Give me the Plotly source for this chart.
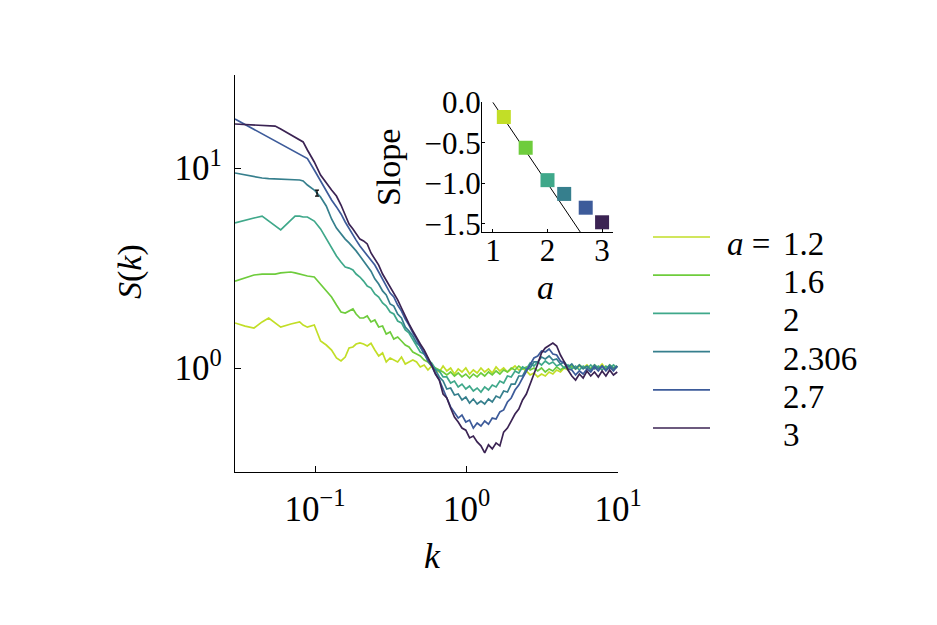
import math
import plotly.graph_objects as go

# ---------------- data ----------------
k_low = [0.0296, 0.0345, 0.0395, 0.0447, 0.0494, 0.0545, 0.0593, 0.0692, 0.0738, 0.0791,
         0.0834, 0.089, 0.0988, 0.1087, 0.1185, 0.1285, 0.1384, 0.1483, 0.1581, 0.1676,
         0.1778, 0.1866, 0.1977]
k_high = [0.209, 0.221, 0.234, 0.248, 0.263, 0.279, 0.295, 0.313, 0.331, 0.351,
          0.372, 0.394, 0.417, 0.442, 0.468, 0.495, 0.525, 0.556, 0.589, 0.624,
          0.661, 0.700, 0.741, 0.785, 0.832, 0.881, 0.933, 0.989, 1.047, 1.109,
          1.175, 1.245, 1.318, 1.396, 1.479, 1.567, 1.660, 1.758, 1.862, 1.972,
          2.089, 2.213, 2.344, 2.483, 2.630, 2.786, 2.951, 3.126, 3.311, 3.508,
          3.715, 3.936, 4.169, 4.416, 4.677, 4.955, 5.248, 5.559, 5.888, 6.237,
          6.607, 6.998, 7.413, 7.852, 8.318, 8.810, 9.333, 9.886]
k = k_low + k_high

a_labels = ["1.2", "1.6", "2", "2.306", "2.7", "3"]

S_a12 = [1.68, 1.62, 1.585, 1.70, 1.778, 1.68, 1.60, 1.66, 1.68, 1.70, 1.64, 1.60, 1.64,
         1.365, 1.303, 1.23, 1.122, 1.084, 1.135, 1.259, 1.274, 1.318, 1.334,
         1.318, 1.288, 1.33, 1.23, 1.148, 1.189, 1.072, 1.122, 1.096, 1.072,
         1.135, 1.047, 1.072, 1.096, 1.072, 1.012, 1.035, 0.977, 1.023, 0.977,
         0.955, 1.023, 0.966, 1.0, 0.933, 0.989, 0.955, 1.0, 0.933, 0.977,
         0.944, 1.0, 0.955, 0.989, 0.944, 1.012, 0.966, 1.0, 0.955, 0.989,
         1.023, 0.977, 1.0, 0.966, 0.923, 0.944, 0.902, 0.933, 0.912, 0.955,
         0.933, 0.977, 0.955, 1.0, 0.977, 1.023, 0.989, 1.023, 1.0, 1.035,
         0.989, 1.023, 1.0, 1.047, 0.989, 1.023, 0.977, 1.023]
S_a16 = [2.72, 2.818, 2.917, 2.95, 2.95, 2.95, 2.99, 3.02, 2.99, 2.95, 2.917, 2.884, 2.851,
         2.63, 2.455, 2.265, 2.065, 1.905, 1.884, 1.927, 1.973, 1.862, 1.778,
         1.778, 1.82, 1.70, 1.738, 1.603, 1.621, 1.479, 1.514, 1.396, 1.429,
         1.365, 1.303, 1.274, 1.202, 1.175, 1.148, 1.096, 1.072, 1.023, 1.0,
         0.977, 0.955, 0.923, 0.955, 0.912, 0.944, 0.902, 0.933, 0.891, 0.933,
         0.902, 0.944, 0.912, 0.955, 0.923, 0.966, 0.933, 0.977, 0.955, 1.0,
         0.977, 1.023, 0.989, 1.012, 0.977, 1.0, 0.966, 1.0, 0.955, 0.989,
         0.966, 1.012, 0.977, 1.012, 0.989, 1.023, 0.989, 1.035, 1.0, 1.023,
         0.989, 1.035, 1.0, 1.023, 0.989, 1.035, 1.0, 1.023]
S_a20 = [5.31, 5.49, 5.62, 5.75, 5.43, 5.13, 4.90, 5.49, 5.75, 5.75, 5.69, 5.69, 5.43,
         4.96, 4.41, 3.98, 3.63, 3.39, 3.20, 3.16, 3.09, 2.95, 2.85,
         2.72, 2.57, 2.51, 2.344, 2.265, 2.113, 2.04, 1.905, 1.862, 1.718,
         1.68, 1.549, 1.497, 1.396, 1.288, 1.202, 1.175, 1.096, 1.059, 0.989,
         0.966, 0.902, 0.902, 0.841, 0.861, 0.804, 0.831, 0.785, 0.813, 0.767,
         0.794, 0.758, 0.804, 0.776, 0.822, 0.804, 0.861, 0.841, 0.912, 0.902,
         0.966, 0.944, 1.012, 0.989, 1.059, 1.023, 1.072, 1.035, 1.084, 1.047,
         1.072, 1.023, 1.047, 1.0, 1.035, 0.989, 1.023, 0.977, 1.023, 0.989,
         1.035, 0.989, 1.023, 0.977, 1.023, 0.989, 1.035, 1.0]
S_a2306 = [9.44, 9.22, 9.02, 8.91, 8.85, 8.81, 8.81, 8.75, 8.71, 8.71, 8.61, 8.22, 7.76,
           7.16, 6.46, 5.56, 5.01, 4.68, 4.41, 4.22, 4.03, 3.85, 3.63,
           3.43, 3.20, 3.05, 2.79, 2.63, 2.43, 2.32, 2.09, 2.04, 1.862,
           1.778, 1.60, 1.531, 1.445, 1.334, 1.288, 1.175, 1.122, 1.023, 0.977,
           0.902, 0.861, 0.785, 0.794, 0.733, 0.741, 0.692, 0.716, 0.668, 0.700,
           0.661, 0.684, 0.661, 0.700, 0.676, 0.724, 0.708, 0.767, 0.758, 0.831,
           0.831, 0.912, 0.912, 0.989, 1.0, 1.072, 1.072, 1.135, 1.109, 1.148,
           1.096, 1.109, 1.047, 1.072, 1.012, 1.047, 0.989, 1.035, 0.989, 1.023,
           0.977, 1.035, 0.989, 1.023, 0.977, 1.035, 0.989, 1.023]
S_a27 = [17.58, 16.5, 15.6, 14.83, 14.22, 13.66, 13.18, 12.37, 12.04, 11.71, 11.44, 11.14, 9.77,
         8.61, 7.67, 6.92, 6.39, 5.89, 5.37, 4.96, 4.62, 4.36, 4.07,
         3.85, 3.67, 3.47, 3.27, 3.02, 2.79, 2.60, 2.37, 2.265, 2.065,
         1.927, 1.758, 1.64, 1.497, 1.396, 1.274, 1.189, 1.084, 1.023, 0.933,
         0.871, 0.776, 0.708, 0.639, 0.603, 0.562, 0.582, 0.537, 0.549, 0.501,
         0.531, 0.513, 0.543, 0.524, 0.562, 0.556, 0.603, 0.617, 0.676, 0.708,
         0.776, 0.822, 0.891, 0.966, 1.047, 1.122, 1.148, 1.216, 1.202, 1.245,
         1.175, 1.161, 1.084, 1.059, 0.989, 0.977, 0.923, 0.966, 0.933, 0.989,
         0.955, 1.012, 0.966, 1.023, 0.966, 1.012, 0.966, 1.023]
S_a30 = [16.6, 16.5, 16.4, 16.3, 16.2, 16.2, 15.67, 14.7, 14.29, 13.88, 13.5, 12.3, 10.72,
         9.22, 8.41, 7.76, 7.24, 6.53, 5.82, 5.25, 4.96, 4.68, 4.41,
         4.32, 4.17, 3.76, 3.51, 3.27, 2.95, 2.75, 2.54, 2.37, 2.19,
         1.995, 1.80, 1.66, 1.531, 1.413, 1.318, 1.23, 1.135, 1.035, 0.933,
         0.871, 0.741, 0.708, 0.631, 0.569, 0.537, 0.501, 0.489, 0.447, 0.457,
         0.427, 0.408, 0.376, 0.413, 0.394, 0.422, 0.408, 0.478, 0.501, 0.543,
         0.589, 0.624, 0.692, 0.741, 0.841, 0.933, 1.047, 1.189, 1.259, 1.303,
         1.334, 1.288, 1.161, 1.072, 0.977, 0.912, 0.871, 0.933, 0.891, 0.966,
         0.912, 0.955, 0.902, 0.966, 0.912, 0.977, 0.923, 0.955]

# single error bar shown on the a = 2.306 curve
err_k = [0.103]
err_S = [7.5]
err_dS = [0.26]

# inset: slope vs a
a_vals = [1.2, 1.6, 2.0, 2.306, 2.7, 3.0]
slopes = [-0.18, -0.56, -0.96, -1.13, -1.30, -1.48]
theory_a = [1.0, 2.6]
theory_slope = [0.0, -1.6]

colors = ["#c2de27", "#6ecc3c", "#3fa88a", "#367f8d", "#3d5b9a", "#3b2353"]

# ---------------- layout helpers ----------------
W, H = 937, 625
L, R, T, B = 235, 319, 75, 153
PW, PH = W - L - R, H - T - B


def px(x):
    return (x - L) / PW


def py(y):
    return (H - B - y) / PH


FONT = "Liberation Serif"

fig = go.Figure()
series = [S_a12, S_a16, S_a20, S_a2306, S_a27, S_a30]
for lab, s, c in zip(a_labels, series, colors):
    fig.add_trace(go.Scatter(x=k, y=s, mode="lines", name="a = " + lab,
                             line=dict(color=c, width=1.7), showlegend=False))

fig.add_trace(go.Scatter(x=err_k, y=err_S, mode="markers", showlegend=False,
                         marker=dict(size=1, color="black"),
                         error_y=dict(type="data", array=err_dS, color="black",
                                      thickness=1.3, width=2)))

fig.add_trace(go.Scatter(x=theory_a, y=theory_slope, mode="lines", xaxis="x2", yaxis="y2",
                         line=dict(color="black", width=1), showlegend=False))
fig.add_trace(go.Scatter(x=a_vals, y=slopes, mode="markers", xaxis="x2", yaxis="y2",
                         marker=dict(symbol="square", size=14, color=colors,
                                     line=dict(width=0)),
                         showlegend=False))

axis_common = dict(showgrid=False, zeroline=False, showline=True, linecolor="black",
                   ticks="inside", tickcolor="black", mirror=False)

fig.update_layout(
    width=W, height=H,
    margin=dict(l=L, r=R, t=T, b=B, pad=0),
    paper_bgcolor="white", plot_bgcolor="white",
    font=dict(family=FONT, color="black"),
    xaxis=dict(type="log", range=[math.log10(0.0296), 1.0],
               tickvals=[0.1, 1, 10],
               ticktext=["10<sup>\u22121</sup>", "10<sup>0</sup>", "10<sup>1</sup>"],
               tickfont=dict(size=35, family=FONT), ticklen=6, tickwidth=1.3,
               linewidth=1.3, ticklabelstandoff=6, **axis_common),
    yaxis=dict(type="log", range=[-0.52, 1.465],
               tickvals=[1, 10],
               ticktext=["10<sup>0</sup>", "10<sup>1</sup>"],
               tickfont=dict(size=35, family=FONT), ticklen=6, tickwidth=1.3,
               linewidth=1.3, ticklabelstandoff=5, **axis_common),
    xaxis2=dict(domain=[px(482), px(613)], anchor="y2", range=[0.8, 3.2],
                tickvals=[1, 2, 3], tickfont=dict(size=31, family=FONT),
                ticklen=3, tickwidth=1, linewidth=1, ticklabelstandoff=-9, **axis_common),
    yaxis2=dict(domain=[py(232), py(102)], anchor="x2", range=[-1.6, 0.005],
                tickvals=[0, -0.5, -1.0, -1.5], tickformat=".1f",
                tickfont=dict(size=31, family=FONT),
                ticklen=3, tickwidth=1, linewidth=1, ticklabelstandoff=-6, **axis_common),
)

ann = []
shapes = []
# axis titles
ann.append(dict(text="<i>S</i>(<i>k</i>)", x=px(130), y=py(272), xref="paper", yref="paper",
                showarrow=False, textangle=-90, font=dict(size=34, family=FONT),
                xanchor="center", yanchor="middle"))
ann.append(dict(text="<i>k</i>", x=px(432), y=py(556), xref="paper", yref="paper",
                showarrow=False, font=dict(size=36, family=FONT),
                xanchor="center", yanchor="middle"))
ann.append(dict(text="Slope", x=px(388), y=py(168), xref="paper", yref="paper",
                showarrow=False, textangle=-90, font=dict(size=34, family=FONT),
                xanchor="center", yanchor="middle"))
ann.append(dict(text="<i>a</i>", x=px(545), y=py(287), xref="paper", yref="paper",
                showarrow=False, font=dict(size=34, family=FONT),
                xanchor="center", yanchor="middle"))

# legend (line samples + labels)
leg_y0, leg_step = 237, 38.2
for i, (lab, c) in enumerate(zip(a_labels, colors)):
    yl = leg_y0 + i * leg_step
    shapes.append(dict(type="line", xref="paper", yref="paper",
                       x0=px(653), x1=px(710), y0=py(yl), y1=py(yl),
                       line=dict(color=c, width=1.7)))
    ann.append(dict(text=lab, x=px(781), y=py(yl + 7), xref="paper", yref="paper",
                    showarrow=False, font=dict(size=33, family=FONT),
                    xanchor="left", yanchor="middle"))
ann.append(dict(text="<i>a</i>\u2005=\u2005", x=px(781), y=py(leg_y0 + 7), xref="paper", yref="paper",
                showarrow=False, font=dict(size=33, family=FONT),
                xanchor="right", yanchor="middle"))

fig.update_layout(annotations=ann, shapes=shapes)

fig.write_html("out.html", config={"displayModeBar": False},
               post_script="document.body.style.margin='0';")
